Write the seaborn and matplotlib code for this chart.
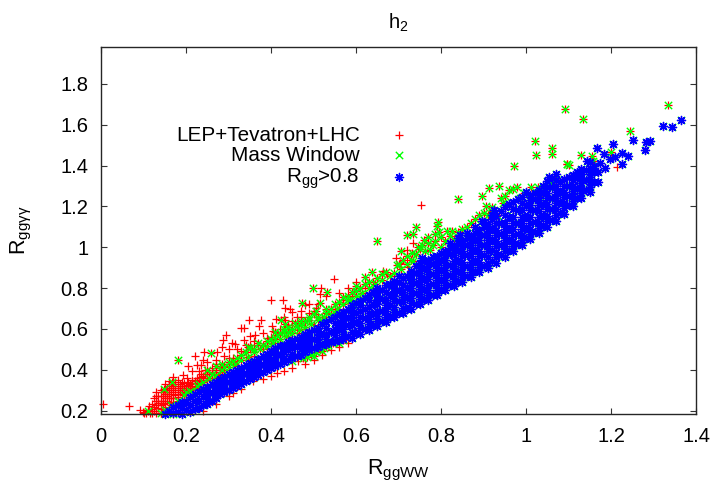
import matplotlib
matplotlib.use("Agg")
import matplotlib.pyplot as plt
import pandas as pd
import seaborn as sns

x_ticks = [0, 0.2, 0.4, 0.6, 0.8, 1, 1.2, 1.4]
y_ticks = [0.2, 0.4, 0.6, 0.8, 1, 1.2, 1.4, 1.6, 1.8]

# points as (R_ggWW, R_ggyy), the three sets are nested
blue_only = [
    (.15, .185), (.17, .19), (.17, .22), (.19, .185), (.19, .215), (.19, .245),
    (.21, .195), (.21, .23), (.21, .265), (.23, .215), (.23, .25), (.23, .29),
    (.25, .235), (.25, .275), (.25, .315), (.27, .26), (.27, .30), (.27, .34),
    (.29, .29), (.29, .33), (.29, .365), (.31, .31), (.31, .35), (.31, .39),
    (.33, .33), (.33, .37), (.33, .41), (.35, .355), (.35, .395), (.35, .435),
    (.37, .375), (.37, .415), (.37, .455), (.39, .40), (.39, .44), (.39, .48),
    (.41, .42), (.41, .465), (.41, .505), (.43, .44), (.43, .485), (.43, .52),
    (.45, .46), (.45, .505), (.45, .545), (.47, .475), (.47, .52), (.47, .56),
    (.49, .495), (.49, .54), (.49, .585), (.51, .51), (.51, .56), (.51, .605),
    (.53, .525), (.53, .575), (.53, .635), (.55, .54), (.55, .60), (.55, .66),
    (.57, .55), (.57, .60), (.57, .645), (.57, .685), (.59, .555), (.59, .62), (.59, .67), (.59, .715),
    (.61, .575), (.61, .63), (.61, .69), (.61, .735), (.63, .595), (.63, .65), (.63, .71), (.63, .765),
    (.65, .615), (.65, .665), (.65, .72), (.65, .76), (.65, .80), (.67, .635), (.67, .69), (.67, .74), (.67, .815),
    (.69, .66), (.69, .71), (.69, .76), (.69, .80), (.69, .835), (.71, .68), (.71, .73), (.71, .78), (.71, .85),
    (.73, .70), (.73, .75), (.73, .80), (.73, .845), (.73, .885), (.75, .72), (.75, .77), (.75, .82), (.75, .875), (.75, .925),
    (.77, .74), (.77, .79), (.77, .845), (.77, .895), (.77, .94), (.79, .765), (.79, .815), (.79, .865), (.79, .915), (.79, .955),
    (.81, .79), (.81, .84), (.81, .89), (.81, .94), (.81, .98), (.83, .81), (.83, .86), (.83, .91), (.83, .96), (.83, 1.005),
    (.85, .83), (.85, .88), (.85, .93), (.85, .98), (.85, 1.03), (.87, .855), (.87, .905), (.87, .955), (.87, 1.01), (.87, 1.055),
    (.89, .88), (.89, .93), (.89, .98), (.89, 1.035), (.89, 1.085), (.91, .90), (.91, .95), (.91, 1.005), (.91, 1.06), (.91, 1.115),
    (.93, .925), (.93, .975), (.93, 1.03), (.93, 1.085), (.93, 1.155), (.95, .95), (.95, 1.005), (.95, 1.06), (.95, 1.12), (.95, 1.195),
    (.97, .98), (.97, 1.03), (.97, 1.09), (.97, 1.15), (.97, 1.22), (.99, 1.01), (.99, 1.06), (.99, 1.12), (.99, 1.18), (.99, 1.245),
    (1.01, 1.04), (1.01, 1.09), (1.01, 1.15), (1.01, 1.205), (1.01, 1.255), (1.03, 1.07), (1.03, 1.12), (1.03, 1.175), (1.03, 1.23), (1.03, 1.28),
    (1.05, 1.10), (1.05, 1.155), (1.05, 1.21), (1.05, 1.265), (1.05, 1.325), (1.07, 1.13), (1.07, 1.185), (1.07, 1.24), (1.07, 1.30), (1.07, 1.36),
    (1.09, 1.165), (1.09, 1.215), (1.09, 1.27), (1.09, 1.335), (1.11, 1.20), (1.11, 1.25), (1.11, 1.30), (1.11, 1.355),
    (1.13, 1.24), (1.13, 1.29), (1.13, 1.34), (1.13, 1.385), (1.15, 1.27), (1.15, 1.32), (1.15, 1.37), (1.15, 1.415),
    (1.17, 1.32), (1.17, 1.37), (1.174, 1.41), (1.186, 1.39), (1.198, 1.43), (1.225, 1.406), (1.143, 1.42),
    (1.184, 1.455), (1.24, 1.445), (1.225, 1.46), (1.21, 1.44), (1.166, 1.484), (1.205, 1.504), (1.251, 1.523),
    (1.279, 1.474), (1.282, 1.514), (1.292, 1.519), (1.322, 1.592), (1.343, 1.587), (1.365, 1.623),
    (.755, .945), (.70, .86), (.925, 1.18), (.897, 1.13), (.845, 1.06), (1.0, 1.27), (1.055, 1.345),
]

blue_between = [
    (.16, .20), (.18, .195), (.18, .23), (.20, .205), (.20, .245), (.22, .21), (.22, .25), (.22, .28),
    (.24, .23), (.24, .27), (.24, .305), (.26, .25), (.26, .29), (.26, .33), (.28, .28), (.28, .32), (.28, .355),
    (.30, .30), (.30, .34), (.30, .38), (.32, .32), (.32, .36), (.32, .40), (.34, .345), (.34, .385), (.34, .425),
    (.36, .365), (.36, .405), (.36, .445), (.38, .39), (.38, .43), (.38, .47), (.40, .41), (.40, .45), (.40, .49),
    (.42, .43), (.42, .475), (.42, .515), (.44, .45), (.44, .495), (.44, .535), (.46, .47), (.46, .51), (.46, .55),
    (.48, .485), (.48, .53), (.48, .575), (.50, .505), (.50, .55), (.50, .595), (.52, .52), (.52, .57), (.52, .625),
    (.54, .535), (.54, .585), (.54, .65), (.56, .545), (.56, .60), (.56, .625), (.56, .675), (.58, .565), (.58, .62), (.58, .66), (.58, .70),
    (.60, .58), (.60, .635), (.60, .68), (.60, .725), (.62, .60), (.62, .655), (.62, .70), (.62, .75),
    (.64, .62), (.64, .675), (.64, .72), (.64, .78), (.66, .64), (.66, .69), (.66, .745), (.66, .79),
    (.68, .66), (.68, .715), (.68, .765), (.68, .82), (.70, .68), (.70, .735), (.70, .785), (.70, .83),
    (.72, .70), (.72, .755), (.72, .805), (.72, .86), (.74, .72), (.74, .775), (.74, .825), (.74, .875), (.74, .91),
    (.76, .745), (.76, .795), (.76, .845), (.76, .90), (.76, .935), (.78, .765), (.78, .82), (.78, .87), (.78, .92), (.78, .95),
    (.80, .79), (.80, .84), (.80, .89), (.80, .94), (.80, .97), (.82, .815), (.82, .865), (.82, .915), (.82, .965), (.82, .995),
    (.84, .835), (.84, .885), (.84, .935), (.84, .985), (.84, 1.02), (.86, .86), (.86, .91), (.86, .96), (.86, 1.01), (.86, 1.045),
    (.88, .885), (.88, .935), (.88, .985), (.88, 1.035), (.88, 1.07), (.90, .91), (.90, .96), (.90, 1.01), (.90, 1.06), (.90, 1.10),
    (.92, .935), (.92, .985), (.92, 1.035), (.92, 1.09), (.92, 1.14), (.94, .96), (.94, 1.01), (.94, 1.065), (.94, 1.12), (.94, 1.175),
    (.96, .985), (.96, 1.035), (.96, 1.09), (.96, 1.15), (.96, 1.21), (.98, 1.015), (.98, 1.065), (.98, 1.12), (.98, 1.18), (.98, 1.235),
    (1.0, 1.045), (1.0, 1.095), (1.0, 1.15), (1.0, 1.205), (1.02, 1.075), (1.02, 1.125), (1.02, 1.18), (1.02, 1.235), (1.02, 1.265),
    (1.04, 1.105), (1.04, 1.155), (1.04, 1.21), (1.04, 1.265), (1.04, 1.30), (1.06, 1.135), (1.06, 1.185), (1.06, 1.24), (1.06, 1.295), (1.06, 1.34),
    (1.08, 1.17), (1.08, 1.22), (1.08, 1.27), (1.08, 1.32), (1.10, 1.205), (1.10, 1.25), (1.10, 1.30), (1.10, 1.345),
    (1.12, 1.24), (1.12, 1.29), (1.12, 1.34), (1.12, 1.37), (1.14, 1.28), (1.14, 1.33), (1.14, 1.38), (1.16, 1.32), (1.16, 1.37), (1.16, 1.40),
]

blue_core = [
    (.25, .255), (.25, .295), (.27, .28), (.27, .32), (.29, .31), (.29, .35), (.31, .33), (.31, .37),
    (.33, .35), (.33, .39), (.35, .375), (.35, .415), (.37, .395), (.37, .435), (.39, .42), (.39, .46),
    (.41, .44), (.41, .485), (.43, .46), (.43, .505), (.45, .48), (.45, .525), (.47, .50), (.47, .54),
    (.49, .515), (.49, .56), (.51, .535), (.51, .585), (.53, .55), (.53, .605), (.55, .57), (.55, .63),
    (.57, .575), (.57, .625), (.57, .665), (.59, .585), (.59, .645), (.59, .695),
    (.61, .605), (.61, .66), (.61, .715), (.63, .622), (.63, .68), (.63, .74),
    (.65, .64), (.65, .69), (.65, .74), (.65, .78), (.67, .66), (.67, .715), (.67, .78),
    (.69, .685), (.69, .735), (.69, .78), (.69, .82), (.71, .705), (.71, .755), (.71, .815),
    (.73, .725), (.73, .775), (.73, .825), (.73, .865), (.75, .745), (.75, .795), (.75, .85), (.75, .90),
    (.77, .765), (.77, .815), (.77, .87), (.77, .92), (.79, .79), (.79, .84), (.79, .89), (.79, .935),
    (.81, .815), (.81, .865), (.81, .915), (.81, .96), (.83, .835), (.83, .885), (.83, .935), (.83, .985),
    (.85, .855), (.85, .905), (.85, .955), (.85, 1.005), (.87, .88), (.87, .93), (.87, .985), (.87, 1.035),
    (.89, .905), (.89, .955), (.89, 1.01), (.89, 1.06), (.91, .925), (.91, .98), (.91, 1.035), (.91, 1.09),
    (.93, .95), (.93, 1.005), (.93, 1.06), (.93, 1.12), (.95, .98), (.95, 1.035), (.95, 1.09), (.95, 1.16),
    (.97, 1.005), (.97, 1.06), (.97, 1.12), (.97, 1.185), (.99, 1.035), (.99, 1.09), (.99, 1.15), (.99, 1.215),
    (1.01, 1.065), (1.01, 1.12), (1.01, 1.18), (1.01, 1.23), (1.03, 1.095), (1.03, 1.15), (1.03, 1.205), (1.03, 1.255),
    (1.05, 1.13), (1.05, 1.185), (1.05, 1.24), (1.05, 1.295), (1.07, 1.16), (1.07, 1.215), (1.07, 1.27), (1.07, 1.33),
    (1.09, 1.19), (1.09, 1.245), (1.09, 1.30), (1.11, 1.225), (1.11, 1.275), (1.11, 1.33),
    (1.13, 1.265), (1.13, 1.315), (1.13, 1.36), (1.15, 1.295), (1.15, 1.345), (1.15, 1.39),
    (.82, 1.02), (.84, 1.045), (.86, 1.07), (.88, 1.10), (.90, 1.125), (.92, 1.16),
]

green_only = [
    (1.334, 1.697), (1.092, 1.679), (1.133, 1.627), (1.245, 1.569), (1.2, 1.465), (1.129, 1.45),
    (1.155, 1.445), (1.157, 1.42), (1.097, 1.409), (1.102, 1.404), (1.021, 1.522), (1.06, 1.486),
    (1.06, 1.457), (1.024, 1.451), (1.096, 1.407), (.972, 1.398), (.839, 1.236), (.897, 1.249),
    (.914, 1.292), (.937, 1.298), (.961, 1.282), (.978, 1.295), (.969, 1.287), (1.011, 1.295),
    (1.029, 1.295), (1.035, 1.283), (.995, 1.267), (.986, 1.243), (1.033, 1.25), (.907, 1.203),
    (.921, 1.179), (.932, 1.156), (1.056, 1.313), (1.068, 1.335), (.97, 1.185), (.945, 1.215),
    (.741, 1.10), (.719, 1.058), (.735, 1.066), (.649, 1.033), (.792, 1.125), (.791, 1.103),
    (.786, 1.063), (.813, 1.079), (.80, 1.05), (.77, 1.02), (.762, .984), (.705, .981),
    (.637, .878), (.621, .855), (.697, .911), (.731, .973), (.735, .932), (.75, .99), (.775, .985),
    (.80, 1.00), (.83, 1.04), (.72, .92), (.705, .895), (.68, .86), (.66, .84), (.645, .82),
    (.63, .80), (.615, .775), (.60, .76), (.585, .74), (.57, .72), (.555, .70), (.54, .675),
    (.525, .66), (.51, .645), (.495, .625), (.48, .61), (.465, .595), (.45, .58), (.435, .565),
    (.42, .55), (.405, .53), (.39, .515), (.375, .50), (.36, .485), (.345, .465), (.33, .45),
    (.315, .43), (.30, .415), (.285, .40), (.27, .375), (.255, .36), (.24, .34), (.225, .32),
    (.21, .295), (.195, .275), (.18, .25), (.165, .23), (.15, .205), (.14, .19), (.53, .70),
    (.56, .73), (.58, .76), (.60, .785), (.62, .82), (.64, .79), (.61, .75), (.59, .725),
    (.55, .68), (.52, .64), (.498, .801), (.531, .78), (.472, .728), (.515, .728), (.347, .512),
    (.424, .646), (.432, .625), (.44, .61), (.415, .57), (.37, .53), (.35, .505), (.33, .475),
    (.456, .63), (.49, .66), (.47, .64), (.505, .69), (.181, .45), (.258, .483), (.168, .339),
    (.148, .308), (.11, .197), (.25, .40), (.27, .42), (.285, .43), (.515, .50), (.555, .54),
    (.484, .463), (.525, .505), (.545, .53), (.505, .485), (.57, .545), (.45, .445), (.17, .185),
    (.30, .44), (.32, .46), (.39, .54), (.41, .585), (.60, .81),
    (.52, .49), (.53, .515), (.535, .52), (.56, .53), (.495, .475), (.50, .47), (.475, .46),
    (.66, .87), (.67, .88), (.69, .875), (.70, .92), (.71, .94), (.72, .955), (.73, .94),
    (.74, .965), (.745, 1.0), (.755, 1.01), (.76, 1.035), (.77, 1.05), (.78, 1.01), (.785, 1.03),
    (.795, 1.075), (.81, 1.03), (.82, 1.055), (.825, 1.08), (.84, 1.075), (.85, 1.09), (.86, 1.10),
    (.87, 1.12), (.88, 1.14), (.89, 1.16), (.90, 1.17), (.91, 1.16), (.92, 1.195), (.94, 1.24),
    (.95, 1.25), (.65, .85), (.63, .83), (.61, .80), (.59, .78), (.57, .755), (.55, .72), (.53, .68),
    (.51, .66), (.49, .645), (.47, .62), (.45, .60), (.43, .585), (.41, .55), (.44, .585), (.46, .615),
    (.38, .52), (.36, .50), (.34, .485), (.31, .445), (.29, .415), (.26, .38), (.23, .33), (.20, .29),
    (.42, .58), (.40, .55), (.43, .60), (.48, .64), (.50, .675), (.54, .70), (.58, .74),
]

red_only = [
    (1.215, 1.393), (.752, 1.206), (.734, 1.019), (.721, .986), (.694, .945), (.704, .924),
    (.549, .847), (.664, .883), (.672, .867), (.722, .901), (.399, .744), (.428, .741), (.433, .701),
    (.449, .684), (.445, .70), (.349, .645), (.376, .645), (.372, .613), (.336, .607), (.33, .605),
    (.402, .617), (.404, .589), (.412, .649), (.433, .646), (.294, .573), (.288, .548), (.284, .512),
    (.309, .53), (.315, .525), (.336, .548), (.351, .566), (.362, .569), (.517, .801), (.515, .769),
    (.53, .76), (.48, .715), (.506, .703), (.46, .66), (.47, .69), (.49, .72), (.44, .62), (.42, .60),
    (.38, .58), (.40, .56), (.36, .54), (.005, .233), (.067, .221), (.092, .205), (.098, .195),
    (.114, .221), (.105, .19), (.222, .47), (.205, .42), (.242, .486), (.241, .45), (.274, .486),
    (.194, .376), (.202, .362), (.213, .393), (.23, .395), (.235, .425), (.225, .425), (.25, .44),
    (.27, .45), (.26, .41), (.29, .47), (.30, .50), (.32, .50), (.34, .52), (.18, .35), (.17, .365),
    (.16, .345), (.15, .33), (.14, .30), (.13, .29), (.125, .26), (.12, .235), (.135, .25), (.145, .27),
    (.155, .29), (.165, .31), (.175, .32), (.185, .33), (.195, .335), (.205, .34), (.215, .35),
    (.225, .36), (.235, .365), (.245, .38), (.255, .39), (.125, .20), (.115, .19), (.135, .215),
    (.145, .235), (.155, .25), (.165, .26), (.175, .275), (.185, .29), (.195, .30), (.205, .31),
    (.215, .32), (.225, .335), (.235, .345), (.13, .19), (.14, .21), (.15, .22), (.16, .24),
    (.17, .245), (.18, .265), (.19, .28), (.20, .285), (.21, .30), (.22, .305), (.24, .33), (.25, .35),
    (.27, .39), (.28, .38), (.30, .46), (.31, .44), (.33, .49), (.35, .50), (.37, .52), (.39, .555),
    (.55, .70), (.56, .775), (.58, .80), (.59, .77), (.57, .74), (.62, .80), (.64, .83), (.60, .83),
    (.24, .20), (.256, .246), (.27, .235), (.31, .288), (.30, .27), (.33, .305), (.358, .344),
    (.38, .355), (.413, .385), (.40, .37), (.43, .395), (.464, .442), (.48, .43), (.50, .45),
    (.52, .475), (.54, .495), (.56, .51), (.58, .53), (.45, .41),
    (.12, .21), (.13, .23), (.13, .25), (.13, .27), (.14, .19), (.14, .23), (.14, .25), (.14, .27),
    (.15, .24), (.15, .26), (.15, .28), (.15, .30), (.16, .26), (.16, .28), (.16, .30), (.16, .32),
    (.17, .26), (.17, .29), (.17, .31), (.17, .33), (.18, .28), (.18, .30), (.18, .32), (.19, .29),
    (.19, .31), (.19, .32), (.19, .34), (.20, .30), (.20, .32), (.21, .31), (.21, .33), (.22, .315),
    (.22, .345), (.23, .31), (.23, .33), (.23, .36), (.24, .35), (.24, .37), (.25, .36), (.25, .38),
    (.26, .35), (.26, .38), (.27, .36), (.27, .40), (.28, .37), (.28, .41), (.29, .39), (.29, .42),
    (.30, .40), (.30, .43), (.32, .42), (.34, .45), (.36, .47), (.38, .50), (.40, .53), (.12, .19),
    (.11, .205), (.10, .19), (.42, .53), (.44, .56), (.46, .58), (.48, .60), (.50, .62), (.52, .66),
    (.54, .66), (.56, .70), (.50, .69), (.51, .72), (.49, .68), (.47, .66), (.45, .64), (.43, .66),
    (.125, .22), (.135, .24), (.135, .27), (.145, .25), (.145, .29), (.155, .27), (.155, .31),
    (.165, .28), (.165, .33), (.175, .30), (.175, .34), (.185, .31), (.195, .32), (.205, .325),
    (.215, .335), (.225, .35), (.235, .38), (.245, .40), (.27, .43), (.31, .46), (.35, .52),
]

blue_pts = blue_only + blue_between + blue_core
green_pts = blue_pts + green_only
red_pts = green_pts + red_only

blue_df = pd.DataFrame(blue_pts, columns=["rww", "raa"])
green_df = pd.DataFrame(green_pts, columns=["rww", "raa"])
red_df = pd.DataFrame(red_pts, columns=["rww", "raa"])

sns.set_style("ticks")
plt.rcParams["font.family"] = ["Liberation Sans", "DejaVu Sans"]
plt.rcParams["mathtext.fontset"] = "custom"
plt.rcParams["mathtext.rm"] = "Liberation Sans"
plt.rcParams["mathtext.it"] = "Liberation Sans"
plt.rcParams["mathtext.default"] = "regular"

fig = plt.figure(figsize=(7.15, 4.82), dpi=100)
ax = fig.add_axes([101 / 715, 1 - 414 / 482, 595 / 715, 367 / 482])

sns.scatterplot(data=red_df, x="rww", y="raa", marker="+", color="#ff0000", s=27,
                linewidth=0.9, clip_on=False, label="LEP+Tevatron+LHC", ax=ax)
sns.scatterplot(data=green_df, x="rww", y="raa", marker="x", color="#00ff00", s=28,
                linewidth=1.0, clip_on=False, label="Mass Window", ax=ax)
sns.scatterplot(data=blue_df, x="rww", y="raa", marker=(8, 2, 0), color="#0000ff", s=34,
                linewidth=1.0, clip_on=False, label=r"R$_{gg}$>0.8", ax=ax)

ax.set_xlim(0, 1.4)
ax.set_ylim(0.184, 1.98)
ax.set_xticks(x_ticks)
ax.set_yticks(y_ticks)
ax.set_xticklabels(["%g" % v for v in x_ticks])
ax.set_yticklabels(["%g" % v for v in y_ticks])
ax.tick_params(direction="in", length=4.5, width=0.8, top=True, right=True, labelsize=14.5,
               color="#333333", pad=9, labelcolor="black")
for s in ax.spines.values():
    s.set_visible(True)
    s.set_linewidth(1.0)

ax.set_title("h$_2$", fontsize=14.5, pad=13, color="black")
ax.set_xlabel("R$_{ggWW}$", fontsize=15.5, labelpad=9, color="black")
ax.set_ylabel(r"R$_{gg\gamma\gamma}$", fontsize=15.5, labelpad=19, color="black")

leg = ax.legend(loc="upper right", bbox_to_anchor=(0.546, 0.786), frameon=False, markerfirst=False,
                fontsize=14.9, labelspacing=0.06, handletextpad=0.6, handlelength=2.6,
                scatterpoints=1, borderpad=0, borderaxespad=0)
for t in leg.get_texts():
    t.set_color("black")

plt.savefig("out.png", dpi=100)
